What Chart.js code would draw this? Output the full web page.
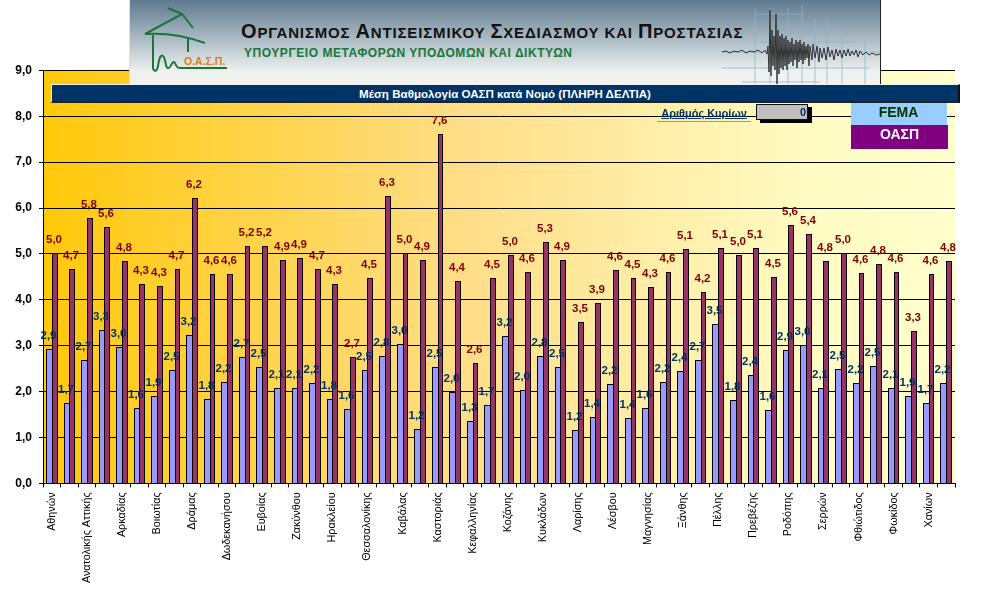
<!DOCTYPE html>
<html>
<head>
<meta charset="utf-8">
<title>Μέση Βαθμολογία ΟΑΣΠ κατά Νομό</title>
<script src="https://cdn.jsdelivr.net/npm/chart.js@4"></script>
<style>
  html, body { margin: 0; padding: 0; background: #fff; }
  body { position: relative; width: 991px; height: 597px; overflow: hidden; font-family: "Liberation Sans", Arial, sans-serif; }
  canvas { position: absolute; left: 0; top: 0; }
  .banner { position: absolute; left: 129px; top: 0; width: 750px; height: 84px; box-sizing: content-box;
    background: linear-gradient(#5f7a8e, #a9b8c2 45%, #eef1ef 85%, #f2f3f1);
    border-left: 1px solid #ddd; border-right: 1px solid #222; border-bottom: 1px solid #111; overflow: hidden; }
  .banner svg { position: absolute; left: 0; top: 0; }
  .org { position: absolute; left: 111px; top: 20px; font-weight: bold; font-size: 15px; letter-spacing: 0.85px; color: #111; white-space: nowrap; }
  .org b { font-size: 20px; }
  .min { position: absolute; left: 114px; top: 46px; font-weight: bold; font-size: 12px; letter-spacing: 0.55px; color: #17773a; white-space: nowrap; }
  .titlebar { position: absolute; left: 51px; top: 84px; width: 906px; height: 16px; line-height: 17px; background: #003366; color: #fff;
    font-weight: bold; font-size: 11.6px; text-align: center; border-left: 1px solid #eee; border-top: 1px solid #eee;
    border-right: 2px solid #111; border-bottom: 2px solid #222; }
  .count { position: absolute; left: 657px; top: 105px; width: 94px; height: 16px; border-bottom: 1px solid #999; color: #003366;
    font-weight: bold; font-size: 11px; text-align: center; line-height: 17px; text-decoration: underline; }
  .cbox { position: absolute; left: 756px; top: 104px; width: 49px; height: 14px; background: #c0c0c0; border: 1px solid #111;
    box-shadow: 4px 3px 0 #000; color: #003366; font-weight: bold; font-size: 11px; text-align: right; line-height: 14px; padding-right: 1px; box-sizing: content-box; }
  .fema { position: absolute; left: 851px; top: 103px; width: 95px; height: 22px; background: #99ccff; color: #003300;
    font-weight: bold; font-size: 14px; text-align: center; line-height: 18px; padding-right: 1px; }
  .oasp { position: absolute; left: 851px; top: 125px; width: 97px; height: 24px; background: #800080; color: #fff;
    font-weight: bold; font-size: 14px; text-align: center; line-height: 18px; }
</style>
</head>
<body>
<canvas id="chart" width="991" height="597"></canvas>

<div class="banner">
  <svg width="750" height="84" viewBox="0 0 750 84">
    <g fill="none" stroke="#17773a" stroke-width="2">
      <path d="M15 34 L52 14 L63 28 M38 8 L52 14"/>
      <path d="M15 34 Q45 32 75 43"/>
      <path d="M23 35 V68 C24 72 27 72 28 66 C29 58 31 54 33 56 C36 58 35 68 38 68 C41 69 41 62 44 62 C46 62 45 68 50 68 H97"/>
      <path d="M58 37 V52"/>
    </g>
    <text x="54" y="65" font-size="10.5" font-weight="bold" fill="#e07b20" font-family="Liberation Sans">Ο.Α.Σ.Π.</text>
    <g stroke="#8fb2cc" stroke-width="1" opacity="0.75">
      <path d="M592 52 H750 M592 68 H740 M612 82 H690 M625 14 H675 M630 42 H725 M655 27 H715 M625 8 V84 M640 8 V84 M658 8 V84 M672 5 V84 M685 18 V84 M697 18 V84 M712 38 V84 M735 40 V84"/>
    </g>
    <path fill="none" stroke="#333" stroke-width="1" d="M592 52 L596 51 L600 53 L604 51 L608 52 L612 50 L616 53 L620 51 L624 52 L628 50 L632 53 L635 50 L637 54 L638 46 L639 72 L640 10 L641 76 L642 30 L643 66 L644 36 L645 70 L646 14 L647 84 L648 30 L649 74 L650 36 L651 68 L652 34 L653 70 L654 38 L655 66 L656 36 L657 70 L658 40 L659 64 L660 42 L661 62 L662 38 L663 66 L664 44 L665 60 L666 40 L667 68 L668 42 L669 62 L670 40 L671 60 L672 44 L673 64 L674 42 L675 60 L676 46 L677 58 L678 44 L679 66 L680 46 L682 60 L683 44 L685 58 L687 46 L689 62 L690 48 L692 58 L694 48 L696 60 L698 47 L700 57 L702 50 L704 60 L706 49 L708 56 L710 50 L712 58 L714 50 L716 56 L718 49 L720 56 L722 51 L724 55 L726 50 L728 57 L730 51 L733 55 L736 52 L739 55 L742 53 L746 55 L750 54"/>
  </svg>
  <div class="org"><b>Ο</b>ΡΓΑΝΙΣΜΟΣ <b>Α</b>ΝΤΙΣΕΙΣΜΙΚΟΥ <b>Σ</b>ΧΕΔΙΑΣΜΟΥ ΚΑΙ <b>Π</b>ΡΟΣΤΑΣΙΑΣ</div>
  <div class="min">ΥΠΟΥΡΓΕΙΟ ΜΕΤΑΦΟΡΩΝ ΥΠΟΔΟΜΩΝ ΚΑΙ ΔΙΚΤΥΩΝ</div>
</div>
<div class="titlebar">Μέση Βαθμολογία ΟΑΣΠ κατά Νομό (ΠΛΗΡΗ ΔΕΛΤΙΑ)</div>
<div class="count">Αριθμός Κυρίων</div>
<div class="cbox">0</div>
<div class="fema">FEMA</div>
<div class="oasp">ΟΑΣΠ</div>

<script>
// only every second category carries a name in the picture
const categories = [
  'Αθηνών', '', 'Ανατολικής Αττικής', '', 'Αρκαδίας', '', 'Βοιωτίας', '', 'Δράμας', '',
  'Δωδεκανήσου', '', 'Ευβοίας', '', 'Ζακύνθου', '', 'Ηρακλείου', '', 'Θεσσαλονίκης', '',
  'Καβάλας', '', 'Καστοριάς', '', 'Κεφαλληνίας', '', 'Κοζάνης', '', 'Κυκλάδων', '',
  'Λαρίσης', '', 'Λέσβου', '', 'Μαγνησίας', '', 'Ξάνθης', '', 'Πέλλης', '',
  'Πρεβέζης', '', 'Ροδόπης', '', 'Σερρών', '', 'Φθιώτιδος', '', 'Φωκίδος', '', 'Χανίων', ''
];
const femaValues = [
  2.91, 1.74, 2.67, 3.33, 2.96, 1.63, 1.89, 2.46, 3.22, 1.83, 2.20, 2.74, 2.52,
  2.06, 2.06, 2.17, 1.83, 1.61, 2.46, 2.76, 3.02, 1.17, 2.52, 1.98, 1.34, 1.70,
  3.20, 2.02, 2.76, 2.52, 1.16, 1.43, 2.16, 1.41, 1.63, 2.20, 2.43, 2.67, 3.46,
  1.80, 2.36, 1.59, 2.89, 3.00, 2.07, 2.48, 2.17, 2.54, 2.07, 1.89, 1.74, 2.17
];
const oaspValues = [
  5.00, 4.67, 5.78, 5.57, 4.83, 4.33, 4.30, 4.67, 6.21, 4.56, 4.56, 5.17, 5.17,
  4.86, 4.91, 4.67, 4.33, 2.74, 4.46, 6.26, 5.00, 4.86, 7.61, 4.41, 2.61, 4.46,
  4.96, 4.59, 5.26, 4.86, 3.50, 3.91, 4.63, 4.46, 4.26, 4.59, 5.09, 4.17, 5.11,
  4.96, 5.11, 4.48, 5.63, 5.43, 4.83, 5.00, 4.57, 4.76, 4.59, 3.30, 4.56, 4.83
];
const FONT = '"Liberation Sans", Arial, sans-serif';

const formatValue = (v) => v.toFixed(1).replace('.', ',');

const plotBackground = {
  id: 'plotBackground',
  beforeDraw(chart) {
    const { ctx, chartArea: a } = chart;
    const g = ctx.createLinearGradient(a.left, 0, a.right, 0);
    g.addColorStop(0, '#ffc90a');
    g.addColorStop(0.45, '#fedd85');
    g.addColorStop(0.85, '#fffcc4');
    g.addColorStop(1, '#ffffcc');
    ctx.save();
    ctx.fillStyle = g;
    ctx.fillRect(a.left, a.top, a.right - a.left, a.bottom - a.top);
    ctx.restore();
  }
};

// snap bars to whole pixels so the black outlines stay crisp; the blue bar
// runs one pixel further so it shares its right edge with the maroon one
const crispBars = {
  id: 'crispBars',
  afterDatasetsUpdate(chart) {
    chart.data.datasets.forEach((ds, i) => {
      chart.getDatasetMeta(i).data.forEach((bar) => {
        const left = Math.round(bar.x - bar.width / 2);
        const right = Math.round(bar.x + bar.width / 2) + (i === 0 ? 1 : 0);
        bar.x = (left + right) / 2;
        bar.width = right - left;
        bar.y = Math.floor(bar.y);
        bar.base = Math.round(bar.base);
      });
    });
  }
};

const valueLabels = {
  id: 'valueLabels',
  afterDatasetsDraw(chart) {
    const { ctx } = chart;
    ctx.save();
    ctx.font = 'bold 11.5px ' + FONT;
    ctx.textAlign = 'center';
    ctx.textBaseline = 'middle';
    chart.data.datasets.forEach((ds, i) => {
      ctx.fillStyle = ds.labelColor;
      chart.getDatasetMeta(i).data.forEach((bar, j) => {
        ctx.fillText(formatValue(ds.data[j]), bar.x - 1, bar.y - 13);
      });
    });
    ctx.restore();
  }
};

new Chart(document.getElementById('chart'), {
  type: 'bar',
  plugins: [plotBackground, crispBars, valueLabels],
  data: {
    labels: categories,
    datasets: [
      { label: 'FEMA', data: femaValues, backgroundColor: '#9999ff', borderColor: '#000', borderWidth: 1, labelColor: '#003366' },
      { label: 'ΟΑΣΠ', data: oaspValues, backgroundColor: '#993366', borderColor: '#000', borderWidth: 1, labelColor: '#800000' }
    ]
  },
  options: {
    responsive: false,
    animation: false,
    layout: { padding: { top: 70.4, right: 36, left: 0, bottom: 0 } },
    plugins: { legend: { display: false }, title: { display: false }, tooltip: { enabled: false } },
    datasets: { bar: { categoryPercentage: 0.66, barPercentage: 1 } },
    scales: {
      x: {
        afterFit: (scale) => { scale.height = 113.6; },
        border: { color: '#000', width: 1 },
        grid: { drawOnChartArea: false, color: '#000', tickLength: 4 },
        ticks: {
          autoSkip: false,
          minRotation: 90,
          maxRotation: 90,
          padding: 5,
          color: '#000',
          font: { family: FONT, size: 10.8 }
        }
      },
      y: {
        min: 0,
        max: 9,
        afterFit: (scale) => { scale.width = 43; },
        border: { color: '#000', width: 1 },
        grid: { color: '#000', lineWidth: 1, tickLength: 4 },
        ticks: {
          stepSize: 1,
          padding: 7,
          color: '#000',
          font: { family: FONT, size: 12, weight: 'bold' },
          callback: (v) => formatValue(v)
        }
      }
    }
  }
});
</script>
</body>
</html>
